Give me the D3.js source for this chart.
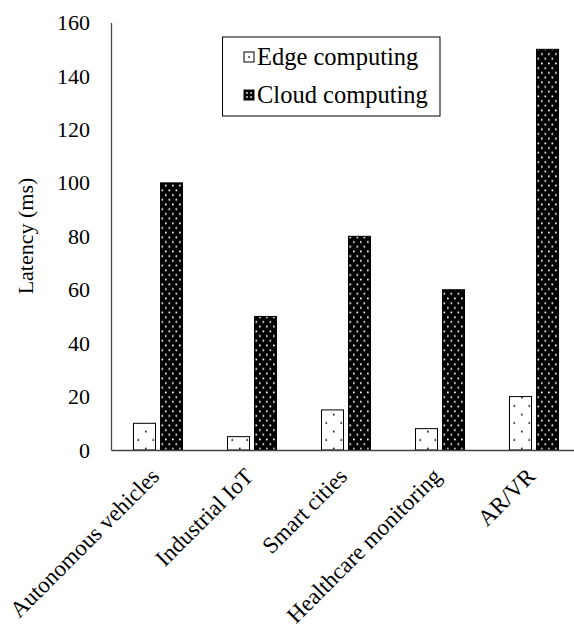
<!DOCTYPE html>
<html>
<head>
<meta charset="utf-8">
<script src="https://cdn.jsdelivr.net/npm/d3@7"></script>
<style>
  body { margin: 0; background: #fff; }
</style>
</head>
<body>
<script>
var categories = ["Autonomous vehicles", "Industrial IoT", "Smart cities", "Healthcare monitoring", "AR/VR"];
var seriesNames = ["Edge computing", "Cloud computing"];
var edgeValues = [10, 5, 15, 8, 20];
var cloudValues = [100, 50, 80, 60, 150];
var yTicks = [0, 20, 40, 60, 80, 100, 120, 140, 160];

var W = 574, H = 640;
var margin = {left: 111, top: 22.6, bottom: 450, right: 581};
var FONT = "Liberation Serif";

var svg = d3.select("body").append("svg")
  .attr("width", W)
  .attr("height", H);

// patterns
var defs = svg.append("defs");

var edgePat = defs.append("pattern")
  .attr("id", "edgePat")
  .attr("patternUnits", "userSpaceOnUse")
  .attr("x", 4).attr("y", 5.7)
  .attr("width", 15).attr("height", 17);
edgePat.append("rect").attr("width", 15).attr("height", 17).attr("fill", "#fff");
edgePat.append("rect").attr("x", 0).attr("y", 0).attr("width", 1.6).attr("height", 1.6).attr("fill", "#000");
edgePat.append("rect").attr("x", 7.5).attr("y", 8.5).attr("width", 1.6).attr("height", 1.6).attr("fill", "#000");

var cloudPat = defs.append("pattern")
  .attr("id", "cloudPat")
  .attr("patternUnits", "userSpaceOnUse")
  .attr("x", 1).attr("y", 1)
  .attr("width", 7).attr("height", 9.4);
cloudPat.append("rect").attr("width", 7).attr("height", 9.4).attr("fill", "#000");
cloudPat.append("rect").attr("x", 0.5).attr("y", 0.5).attr("width", 1.7).attr("height", 1.7).attr("fill", "#fff");
cloudPat.append("rect").attr("x", 4).attr("y", 5.2).attr("width", 1.7).attr("height", 1.7).attr("fill", "#fff");

var fills = ["url(#edgePat)", "url(#cloudPat)"];

var x0 = d3.scaleBand()
  .domain(categories)
  .range([margin.left, margin.right]);

var x1 = d3.scaleBand()
  .domain(seriesNames)
  .range([0, x0.bandwidth()])
  .paddingInner(0.185)
  .paddingOuter(0.833);

var y = d3.scaleLinear()
  .domain([0, 160])
  .range([margin.bottom, margin.top]);

var rows = categories.map(function(c, i) {
  return {cat: c, vals: [edgeValues[i], cloudValues[i]]};
});

// bars
var groups = svg.selectAll("g.cat")
  .data(rows)
  .enter().append("g")
  .attr("class", "cat")
  .attr("transform", function(d) { return "translate(" + x0(d.cat) + ",0)"; });

groups.selectAll("rect")
  .data(function(d) { return d.vals.map(function(v, j) { return {s: seriesNames[j], v: v, j: j}; }); })
  .enter().append("rect")
  .attr("x", function(d) { return x1(d.s); })
  .attr("y", function(d) { return y(d.v); })
  .attr("width", x1.bandwidth())
  .attr("height", function(d) { return y(0) - y(d.v); })
  .attr("fill", function(d) { return fills[d.j]; })
  .attr("stroke", "#000")
  .attr("stroke-width", 1);

// y axis
var yAxis = svg.append("g")
  .attr("transform", "translate(" + margin.left + ",0)")
  .call(d3.axisLeft(y).tickValues(yTicks).tickSize(0).tickPadding(21));
yAxis.select(".domain").attr("stroke", "#444").attr("stroke-width", 1.3);
yAxis.selectAll("text")
  .attr("font-family", FONT)
  .attr("font-size", 22)
  .attr("fill", "#000");

// x axis
var xAxis = svg.append("g")
  .attr("transform", "translate(0," + margin.bottom + ")")
  .call(d3.axisBottom(x0).tickSize(0).tickFormat(""));
xAxis.select(".domain").attr("stroke", "#444").attr("stroke-width", 1.3);

svg.append("g").selectAll("text")
  .data(categories)
  .enter().append("text")
  .attr("transform", function(d) {
    return "translate(" + (x0(d) + x0.bandwidth() / 2 - 3) + "," + (margin.bottom + 22) + ") rotate(-45)";
  })
  .attr("text-anchor", "end")
  .attr("dy", "0.35em")
  .attr("font-family", FONT)
  .attr("font-size", 23)
  .text(function(d) { return d; });

// y label
svg.append("text")
  .attr("transform", "translate(33,236) rotate(-90)")
  .attr("text-anchor", "middle")
  .attr("font-family", FONT)
  .attr("font-size", 22)
  .text("Latency (ms)");

// legend
var lg = svg.append("g");
lg.append("rect")
  .attr("x", 222.5).attr("y", 37)
  .attr("width", 217.5).attr("height", 79)
  .attr("fill", "#fff").attr("stroke", "#000").attr("stroke-width", 1);

var legendY = [57, 95];
seriesNames.forEach(function(name, i) {
  var sw = lg.append("g").attr("transform", "translate(244," + (legendY[i] - 5) + ")");
  if (i === 0) {
    sw.append("rect").attr("width", 10).attr("height", 10).attr("fill", "#fff").attr("stroke", "#000");
    sw.append("rect").attr("x", 4.3).attr("y", 4.3).attr("width", 1.5).attr("height", 1.5).attr("fill", "#000");
  } else {
    sw.append("rect").attr("width", 10).attr("height", 10).attr("fill", "#000").attr("stroke", "#000");
    [[2.2, 2.2], [6.2, 2.2], [2.2, 6.2], [6.2, 6.2]].forEach(function(p) {
      sw.append("rect").attr("x", p[0]).attr("y", p[1]).attr("width", 1.6).attr("height", 1.6).attr("fill", "#fff");
    });
  }
  lg.append("text")
    .attr("x", 257)
    .attr("y", legendY[i] + 8)
    .attr("font-family", FONT)
    .attr("font-size", 24.5)
    .text(name);
});
</script>
</body>
</html>
